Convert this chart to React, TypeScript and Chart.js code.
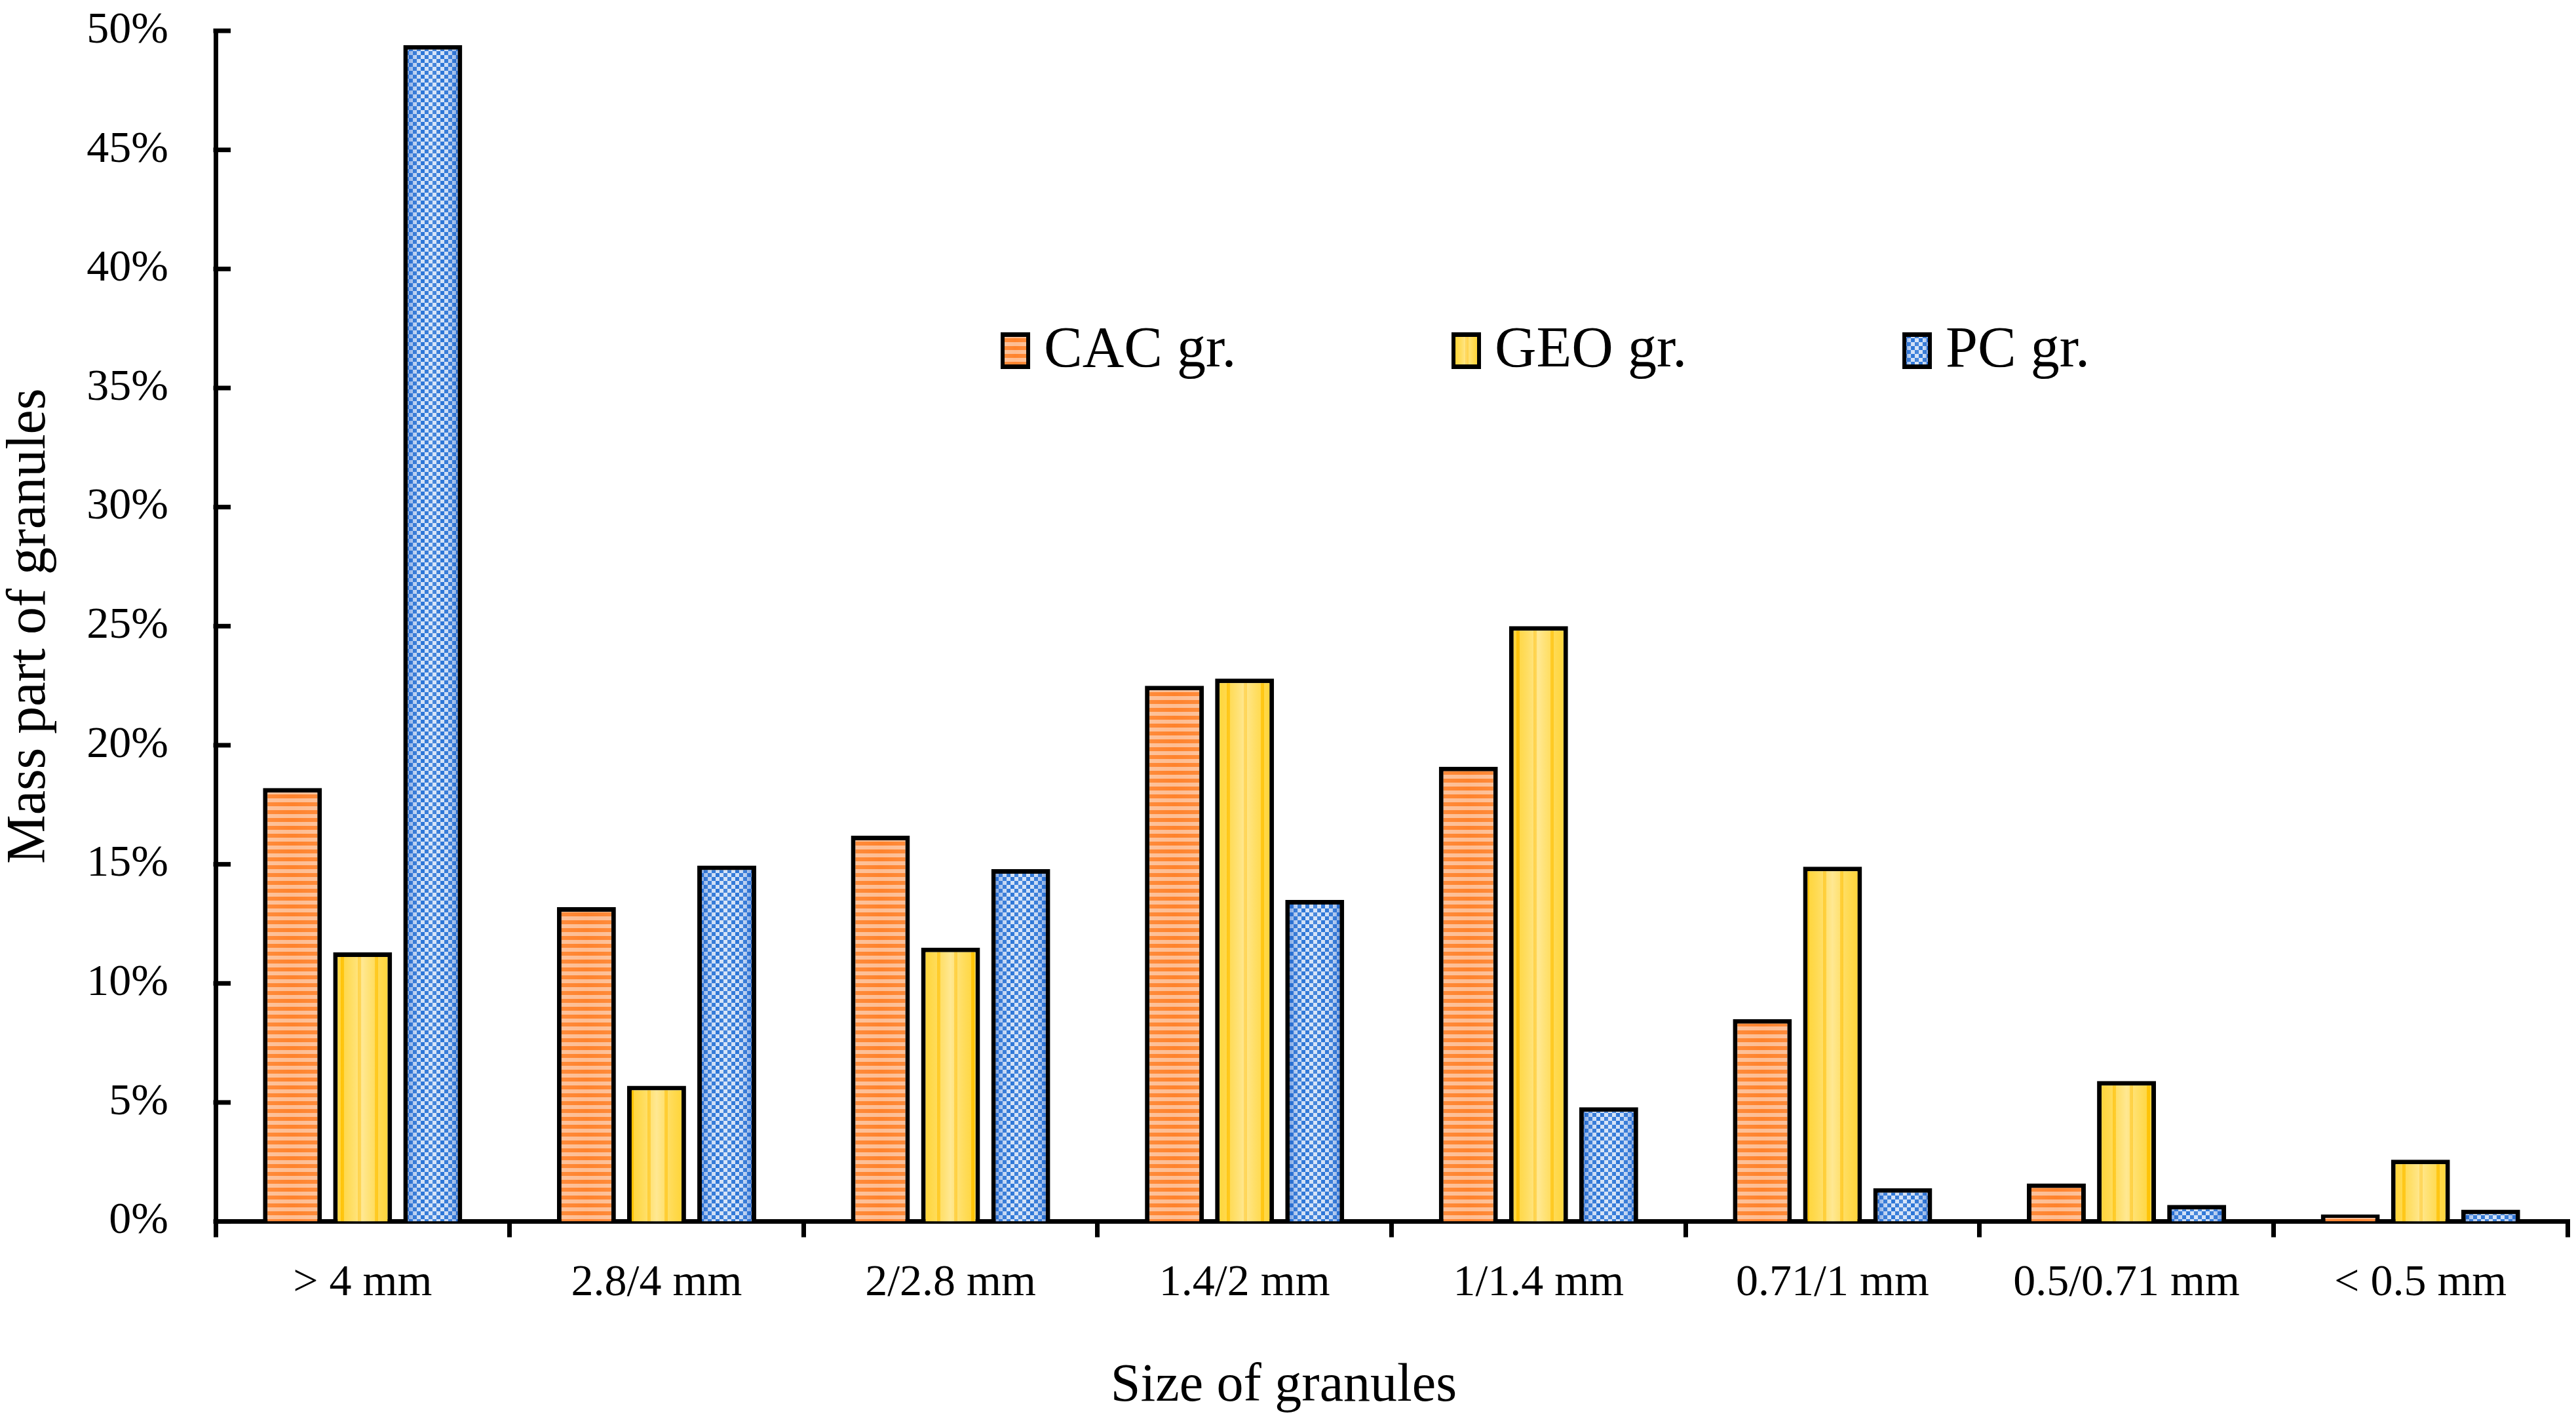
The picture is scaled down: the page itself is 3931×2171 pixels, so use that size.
import React, { useEffect, useRef } from 'react';
import { Chart, registerables } from 'chart.js';

Chart.register(...registerables);

// ---------- data ----------
const categories = ['> 4 mm', '2.8/4 mm', '2/2.8 mm', '1.4/2 mm', '1/1.4 mm', '0.71/1 mm', '0.5/0.71 mm', '< 0.5 mm'];
const seriesLabels = ['CAC gr.', 'GEO gr.', 'PC gr.'];
const cacValues = [18.2, 13.2, 16.2, 22.5, 19.1, 8.5, 1.6, 0.3];
const geoValues = [11.3, 5.7, 11.5, 22.8, 25.0, 14.9, 5.9, 2.6];
const pcValues = [49.4, 14.95, 14.8, 13.5, 4.8, 1.4, 0.7, 0.5];
const yMin = 0;
const yMax = 50;
const yStep = 5;
const xTitle = 'Size of granules';
const yTitle = 'Mass part of granules';

// ---------- style ----------
const W = 3931;
const H = 2171;
const FONT = '"Liberation Serif", "Times New Roman", serif';
const BW = 7;

type Stop = [number, string];
const SHADES: Stop[][] = [
  [[0, 'rgba(255,255,255,0.12)'], [0.5, 'rgba(255,255,255,0.06)'], [1, 'rgba(255,255,255,0.12)']],
  [[0, 'rgba(255,200,0,0.25)'], [0.5, 'rgba(255,255,255,0.38)'], [1, 'rgba(255,200,0,0.25)']],
  [[0, 'rgba(30,95,200,0.45)'], [0.3, 'rgba(255,255,255,0.05)'], [0.5, 'rgba(255,255,255,0.2)'], [0.7, 'rgba(255,255,255,0.05)'], [1, 'rgba(30,95,200,0.45)']],
];

function makePattern(kind: number): CanvasPattern | string {
  const c = document.createElement('canvas');
  const ctx = c.getContext('2d');
  if (!ctx) return '#888';
  if (kind === 0) {
    c.width = 4; c.height = 12;
    ctx.fillStyle = '#FDB98C'; ctx.fillRect(0, 0, 4, 12);
    ctx.fillStyle = '#FF7B1F'; ctx.fillRect(0, 0, 4, 6);
  } else if (kind === 1) {
    c.width = 26; c.height = 4;
    ctx.fillStyle = '#FFDA50'; ctx.fillRect(0, 0, 26, 4);
    ctx.fillStyle = '#FFC000'; ctx.fillRect(0, 0, 5, 4);
  } else {
    c.width = 12; c.height = 12;
    ctx.fillStyle = '#CFDFF6'; ctx.fillRect(0, 0, 12, 12);
    ctx.fillStyle = '#1F6DD4'; ctx.fillRect(0, 0, 6, 6); ctx.fillRect(6, 6, 6, 6);
  }
  return ctx.createPattern(c, 'repeat') || '#888';
}

function shade(ctx: CanvasRenderingContext2D, di: number, l: number, t: number, r: number, b: number) {
  if (r <= l || b <= t) return;
  const g = ctx.createLinearGradient(l, 0, r, 0);
  SHADES[di].forEach(([o, c]) => g.addColorStop(o, c));
  ctx.save();
  ctx.fillStyle = g;
  ctx.fillRect(l, t, r - l, b - t);
  ctx.restore();
}

const barShade = {
  id: 'barShade',
  afterDatasetsDraw(chart: any) {
    const ctx = chart.ctx;
    chart.data.datasets.forEach((ds: any, di: number) => {
      const meta = chart.getDatasetMeta(di);
      meta.data.forEach((el: any) => {
        const { x, y, base, width } = el.getProps(['x', 'y', 'base', 'width'], true);
        shade(ctx, di, x - width / 2 + BW, y + BW, x + width / 2 - BW, base);
      });
    });
  },
};

const yInTicks = {
  id: 'yInTicks',
  afterDraw(chart: any) {
    const s = chart.scales.y;
    const ctx = chart.ctx;
    const left = chart.chartArea.left;
    ctx.save();
    ctx.strokeStyle = '#000';
    ctx.lineWidth = 7;
    s.ticks.forEach((_t: any, i: number) => {
      const py = s.getPixelForTick(i);
      ctx.beginPath();
      ctx.moveTo(left - 3.5, py);
      ctx.lineTo(left + 23, py);
      ctx.stroke();
    });
    ctx.restore();
  },
};

const LEG_X0 = 0.3338;
const LEG_DX = 0.1917;
const LEG_Y = 488;

const insideLegend = {
  id: 'insideLegend',
  afterDraw(chart: any) {
    const { ctx, chartArea: ca } = chart;
    const w = ca.right - ca.left;
    chart.data.datasets.forEach((ds: any, i: number) => {
      const bx = ca.left + w * (LEG_X0 + i * LEG_DX);
      const by = ca.top + LEG_Y - 28;
      ctx.save();
      ctx.fillStyle = '#000';
      ctx.fillRect(bx, by, 45, 56);
      ctx.fillStyle = ds.backgroundColor;
      ctx.fillRect(bx + 6, by + 7, 33, 42);
      ctx.restore();
      shade(ctx, i, bx + 6, by + 7, bx + 39, by + 49);
      ctx.save();
      ctx.font = `88px ${FONT}`;
      ctx.fillStyle = '#000';
      ctx.textBaseline = 'alphabetic';
      ctx.textAlign = 'left';
      ctx.fillText(ds.label, bx + 45 + 21, by + 52);
      ctx.restore();
    });
  },
};

export default function App() {
  const ref = useRef<HTMLCanvasElement | null>(null);

  useEffect(() => {
    document.body.style.margin = '0';
    const canvas = ref.current;
    if (!canvas) return;
    const values = [cacValues, geoValues, pcValues];
    const chart = new Chart(canvas, {
      type: 'bar',
      data: {
        labels: categories,
        datasets: values.map((v, i) => ({
          label: seriesLabels[i],
          data: v,
          backgroundColor: makePattern(i) as any,
          borderColor: '#000',
          borderWidth: BW,
          categoryPercentage: 0.716,
          barPercentage: 0.84,
        })),
      },
      options: {
        responsive: false,
        animation: false,
        devicePixelRatio: 1,
        layout: { padding: { left: 0, top: 47, right: 13, bottom: 0 } },
        plugins: {
          legend: { display: false },
          tooltip: { enabled: false },
          title: {
            display: true,
            position: 'bottom',
            text: xTitle,
            color: '#000',
            font: { family: FONT, size: 82, weight: 'normal', lineHeight: 1.2 },
            padding: { top: 0, bottom: 6 },
          },
        },
        scales: {
          x: {
            z: 1,
            grid: {
              offset: true,
              drawOnChartArea: false,
              drawTicks: true,
              tickLength: 24,
              tickWidth: 7,
              tickColor: '#000',
              color: '#000',
              lineWidth: 7,
            },
            border: { display: true, color: '#000', width: 7 },
            ticks: {
              color: '#000',
              font: { family: FONT, size: 68 },
              padding: 30,
              maxRotation: 0,
              autoSkip: false,
            },
            afterFit: (s: any) => { s.height = 203; },
          },
          y: {
            min: yMin,
            max: yMax,
            grid: { display: false, drawTicks: false },
            border: { display: true, color: '#000', width: 7 },
            ticks: {
              stepSize: yStep,
              color: '#000',
              font: { family: FONT, size: 68 },
              padding: 72,
              callback: (v: any) => `${v}%`,
            },
            title: {
              display: true,
              text: yTitle,
              color: '#000',
              font: { family: FONT, size: 84, lineHeight: 1.1 },
              padding: 0,
            },
            afterFit: (s: any) => {
              s.width = 329;
              s.paddingTop = 0;
              s.paddingBottom = 0;
            },
          },
        },
      } as any,
      plugins: [barShade, yInTicks, insideLegend],
    });
    return () => chart.destroy();
  }, []);

  return (
    <div style={{ position: 'fixed', left: 0, top: 0, width: W, height: H, background: '#fff' }}>
      <canvas ref={ref} width={W} height={H} style={{ display: 'block', width: W, height: H }} />
    </div>
  );
}
